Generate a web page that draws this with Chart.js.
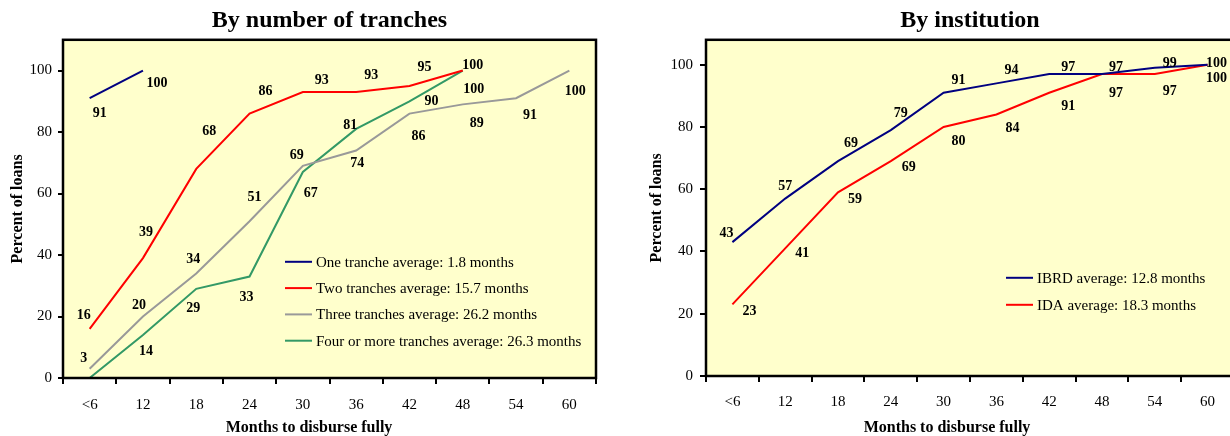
<!DOCTYPE html>
<html>
<head>
<meta charset="utf-8">
<script src="https://cdn.jsdelivr.net/npm/chart.js@4/dist/chart.umd.min.js"></script>
<style>
  html, body { margin: 0; padding: 0; background: #fff; overflow: hidden; }
  body { width: 1230px; height: 436px; position: relative; }
  .box { position: absolute; top: 0; height: 436px; }
  #leftBox { left: 0; width: 615px; }
  #rightBox { left: 640px; width: 610px; }
</style>
</head>
<body>
<div class="box" id="leftBox"><canvas id="chartTranches"></canvas></div>
<div class="box" id="rightBox"><canvas id="chartInstitution"></canvas></div>
<script>
let months = ["<6", "12", "18", "24", "30", "36", "42", "48", "54", "60"];

// percent of loans fully disbursed, by number of tranches
let oneTranche = [91, 100, null, null, null, null, null, null, null, null];
let twoTranches = [16, 39, 68, 86, 93, 93, 95, 100, null, null];
let threeTranches = [3, 20, 34, 51, 69, 74, 86, 89, 91, 100];
let fourTranches = [0, 14, 29, 33, 67, 81, 90, 100, null, null];

// percent of loans fully disbursed, by institution
let ibrd = [43, 57, 69, 79, 91, 94, 97, 97, 99, 100];
let ida = [23, 41, 59, 69, 80, 84, 91, 97, 97, 100];

// where each value label sits relative to its point (px)
let oneNudge = [[10, 15], [14, 13]];
let twoNudge = [[-6, -13], [3, -26], [13, -38], [16, -22], [19, -12], [15, -17], [15, -19], [10, -5]];
let threeNudge = [[-6, -10], [-4, -11], [-3, -14], [5, -24], [-6, -10], [1, 13], [9, 23], [14, 19], [14, 17], [6, 21]];
let fourNudge = [null, [3, 16], [-3, 20], [-3, 21], [8, 21], [-6, -4], [22, 0], [11, 19]];
let ibrdNudge = [[-6, -9], [0, -12], [13, -18], [10, -17], [15, -12], [15, -13], [19, -7], [14, -7], [15, -4], [9, -1]];
let idaNudge = [[17, 7], [17, 5], [17, 7], [18, 6], [15, 14], [16, 14], [19, 14], [14, 19], [15, 17], [9, 14]];

let serif = "'Liberation Serif', 'Times New Roman', serif";
Chart.defaults.font.family = serif;
Chart.defaults.color = "#000";

let plotFrame = {
  id: "plotFrame",
  beforeDraw(chart) {
    let a = chart.chartArea;
    let ctx = chart.ctx;
    ctx.save();
    ctx.fillStyle = "#FFFFCC";
    ctx.fillRect(a.left, a.top, a.right - a.left, a.bottom - a.top);
    ctx.restore();
  },
  afterDraw(chart) {
    let a = chart.chartArea;
    let ctx = chart.ctx;
    ctx.save();
    ctx.strokeStyle = "#000";
    ctx.lineWidth = 2.5;
    ctx.strokeRect(a.left, a.top, a.right - a.left, a.bottom - a.top);
    ctx.restore();
  },
};

let pointLabels = {
  id: "pointLabels",
  afterDatasetsDraw(chart) {
    let ctx = chart.ctx;
    ctx.save();
    ctx.font = "bold 14px " + serif;
    ctx.fillStyle = "#000";
    ctx.textAlign = "center";
    ctx.textBaseline = "middle";
    chart.data.datasets.forEach(function (ds, i) {
      let meta = chart.getDatasetMeta(i);
      meta.data.forEach(function (pt, j) {
        let v = ds.data[j];
        let nudge = ds.nudge[j];
        if (v == null || !nudge) return;
        ctx.fillText(String(Math.round(v)), pt.x + nudge[0], pt.y + nudge[1]);
      });
    });
    ctx.restore();
  },
};

let boxLegend = {
  id: "boxLegend",
  afterDraw(chart, args, opts) {
    let a = chart.chartArea;
    let ctx = chart.ctx;
    ctx.save();
    ctx.font = "15px " + serif;
    ctx.textBaseline = "middle";
    ctx.textAlign = "left";
    ctx.fillStyle = "#000";
    chart.data.datasets.forEach(function (ds, i) {
      let x = a.left + opts.left;
      let y = a.top + opts.top + i * opts.rowGap;
      ctx.strokeStyle = ds.borderColor;
      ctx.lineWidth = 2;
      ctx.beginPath();
      ctx.moveTo(x, y);
      ctx.lineTo(x + 27, y);
      ctx.stroke();
      ctx.fillText(ds.label, x + 31, y + 1);
    });
    ctx.restore();
  },
};

let xCaption = {
  id: "xCaption",
  afterDraw(chart, args, opts) {
    let ctx = chart.ctx;
    ctx.save();
    ctx.font = "bold 16px " + serif;
    ctx.fillStyle = "#000";
    ctx.textAlign = "center";
    ctx.textBaseline = "middle";
    ctx.fillText(opts.text, chart.width / 2 + opts.shift, opts.y);
    ctx.restore();
  },
};

function line(label, data, color, nudge) {
  return {
    label: label,
    data: data,
    borderColor: color,
    backgroundColor: color,
    borderWidth: 2,
    pointRadius: 0,
    tension: 0,
    fill: false,
    nudge: nudge,
  };
}

function makeOptions(cfg) {
  return {
    responsive: true,
    maintainAspectRatio: false,
    animation: false,
    layout: { padding: { left: 0, right: cfg.padRight, top: 0, bottom: 0 } },
    plugins: {
      legend: { display: false },
      tooltip: { enabled: false },
      title: {
        display: true,
        text: cfg.title,
        fullSize: false,
        color: "#000",
        font: { family: serif, size: 24, weight: "bold" },
        padding: { top: 6, bottom: 5 },
      },
      boxLegend: cfg.legend,
      xCaption: { text: "Months to disburse fully", y: 427.5, shift: cfg.captionShift },
    },
    scales: {
      x: {
        type: "category",
        offset: true,
        grid: { offset: true, drawOnChartArea: false, drawTicks: true, tickLength: 6, color: "#000", lineWidth: 2 },
        border: { display: false },
        ticks: { color: "#000", font: { family: serif, size: 15 }, padding: cfg.xPad, maxRotation: 0, autoSkip: false },
        afterFit(scale) {
          scale.height = cfg.xHeight;
        },
      },
      y: {
        min: 0,
        max: cfg.yMax,
        grid: { drawOnChartArea: false, drawTicks: true, tickLength: cfg.yTick, color: "#000", lineWidth: 2 },
        border: { display: false },
        ticks: { stepSize: 20, includeBounds: false, color: "#000", font: { family: serif, size: 15 }, padding: cfg.yPad },
        title: {
          display: true,
          text: "Percent of loans",
          color: "#000",
          font: { family: serif, size: 16, weight: "bold" },
          padding: { top: cfg.yTitlePad, bottom: 0 },
        },
        afterFit(scale) {
          scale.width = cfg.yWidth;
        },
      },
    },
  };
}

new Chart(document.getElementById("chartTranches"), {
  type: "line",
  data: {
    labels: months,
    datasets: [
      line("One tranche average: 1.8 months", oneTranche, "#000080", oneNudge),
      line("Two tranches average: 15.7 months", twoTranches, "#FF0000", twoNudge),
      line("Three tranches average: 26.2 months", threeTranches, "#999999", threeNudge),
      line("Four or more tranches average: 26.3 months", fourTranches, "#339966", fourNudge),
    ],
  },
  options: makeOptions({
    title: "By number of tranches",
    padRight: 19,
    yMax: 110,
    yWidth: 63,
    yTick: 5,
    yPad: 6,
    yTitlePad: 8,
    xHeight: 58,
    xPad: 12,
    captionShift: 1.5,
    legend: { left: 222, top: 222, rowGap: 26.3 },
  }),
  plugins: [plotFrame, pointLabels, boxLegend, xCaption],
});

new Chart(document.getElementById("chartInstitution"), {
  type: "line",
  data: {
    labels: months,
    datasets: [
      line("IBRD average: 12.8 months", ibrd, "#000080", ibrdNudge),
      line("IDA average: 18.3 months", ida, "#FF0000", idaNudge),
    ],
  },
  options: makeOptions({
    title: "By institution",
    padRight: 16,
    yMax: 108,
    yWidth: 66,
    yTick: 6,
    yPad: 7,
    yTitlePad: 7,
    xHeight: 60,
    xPad: 11,
    captionShift: 2,
    legend: { left: 300, top: 238, rowGap: 27 },
  }),
  plugins: [plotFrame, pointLabels, boxLegend, xCaption],
});
</script>
</body>
</html>
